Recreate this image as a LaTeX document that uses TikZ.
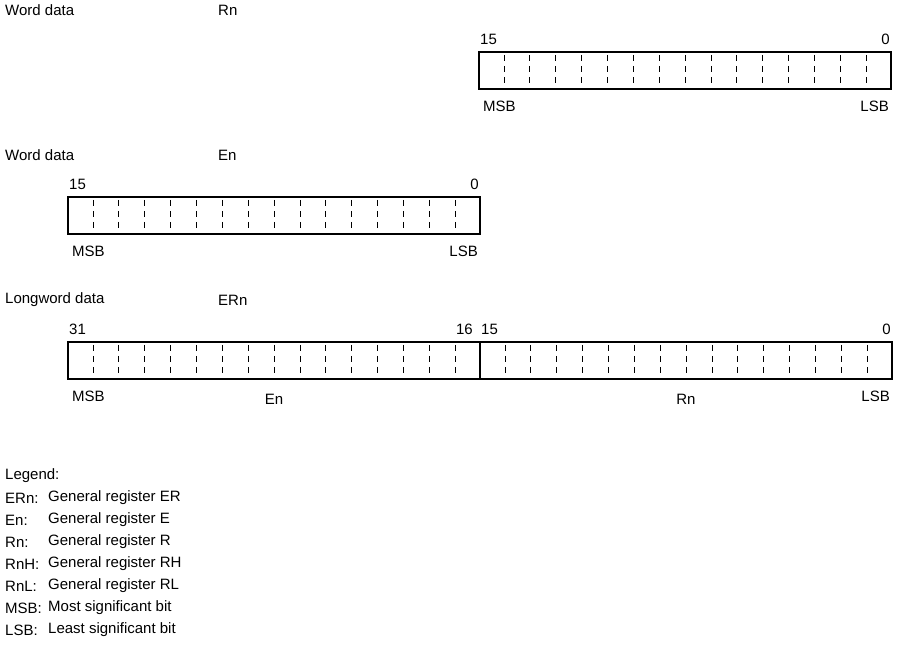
\documentclass[tikz,border=0pt]{standalone}
\usepackage{fontspec}
\setmainfont{Liberation Sans}
\usetikzlibrary{positioning, calc}

\begin{document}
\begin{tikzpicture}[x=1pt, y=-1pt, font=\fontsize{15}{18}\selectfont,
  regbox/.style={draw, line width=2pt, inner sep=0pt, minimum height=37pt, anchor=north west},
  bittick/.style={line width=0.7pt, dash pattern=on 6pt off 5pt},
  txt/.style={anchor=west, inner sep=0pt}]
  \useasboundingbox (0,0) rectangle (898,647);

  % word data Rn
  \node[txt] (t1) at (5,10) {Word data};
  \node[txt] (n1) at (218,10) {Rn};
  \node[regbox, minimum width=412pt] (r1) at (478,51) {};
  \foreach \i in {1,...,15}
    \draw[bittick] ($(r1.north west)!\i/16!(r1.north east)$) ++(0,4) -- ++(0,29);
  \node[above right=6pt and 2pt of r1.north west, inner sep=0pt] (h1) {15};
  \node[above left=6pt and 2pt of r1.north east, inner sep=0pt] (l1) {0};
  \node[below right=11pt and 5pt of r1.south west, inner sep=0pt] (m1) {MSB};
  \node[below left=11pt and 3pt of r1.south east, inner sep=0pt] (s1) {LSB};

  % word data En
  \node[txt] (t2) at (5,155) {Word data};
  \node[txt] (n2) at (218,155) {En};
  \node[regbox, minimum width=412pt] (r2) at (67,196) {};
  \foreach \i in {1,...,15}
    \draw[bittick] ($(r2.north west)!\i/16!(r2.north east)$) ++(0,4) -- ++(0,29);
  \node[above right=6pt and 2pt of r2.north west, inner sep=0pt] (h2) {15};
  \node[above left=6pt and 2pt of r2.north east, inner sep=0pt] (l2) {0};
  \node[below right=11pt and 5pt of r2.south west, inner sep=0pt] (m2) {MSB};
  \node[below left=11pt and 3pt of r2.south east, inner sep=0pt] (s2) {LSB};

  % longword data ERn
  \node[txt] (t3) at (5,300) {Longword data};
  \node[txt] (n3) at (218,300) {ERn};
  \node[regbox, minimum width=412pt] (e3) at (67,341) {};
  \node[regbox, minimum width=412pt] (r3) at (479,341) {};
  \foreach \i in {1,...,15}{
    \draw[bittick] ($(e3.north west)!\i/16!(e3.north east)$) ++(0,4) -- ++(0,29);
    \draw[bittick] ($(r3.north west)!\i/16!(r3.north east)$) ++(0,4) -- ++(0,29);
  }
  \node[above right=6pt and 2pt of e3.north west, inner sep=0pt] (h3) {31};
  \node[above left=6pt and 8pt of e3.north east, inner sep=0pt] (a3) {16};
  \node[above right=6pt and 2pt of r3.north west, inner sep=0pt] (b3) {15};
  \node[above left=6pt and 2pt of r3.north east, inner sep=0pt] (l3) {0};
  \node[below right=11pt and 5pt of e3.south west, inner sep=0pt] (m3) {MSB};
  \node[below left=11pt and 3pt of r3.south east, inner sep=0pt] (s3) {LSB};
  \node[below=14pt of e3.south, inner sep=0pt] (en3) {En};
  \node[below=14pt of r3.south, inner sep=0pt] (rn3) {Rn};

  % legend
  \node[txt] (lg) at (5,476) {Legend:};
  \foreach \k/\v [count=\j] in {ERn/General register ER, En/General register E,
      Rn/General register R, RnH/General register RH, RnL/General register RL,
      MSB/Most significant bit, LSB/Least significant bit}{
    \node[txt] (k\j) at (5,476+22*\j) {\k:};
    \node[txt] (v\j) at (48,476+22*\j) {\v};
  }
\end{tikzpicture}
\end{document}
